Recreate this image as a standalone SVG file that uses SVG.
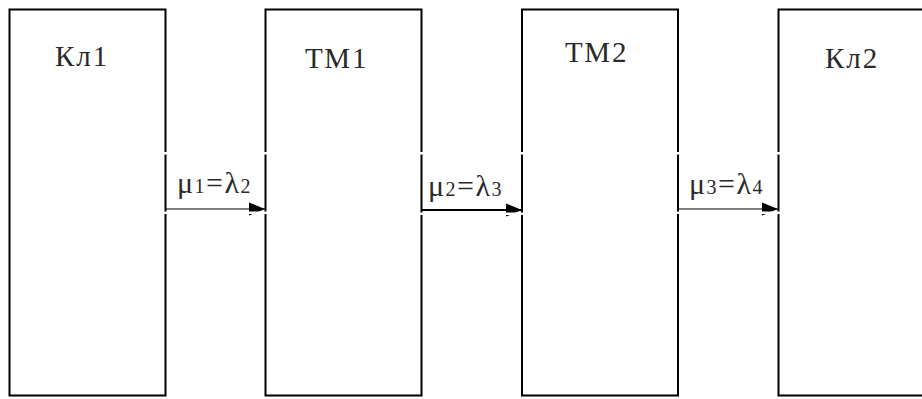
<svg xmlns="http://www.w3.org/2000/svg" width="922" height="399" viewBox="0 0 922 399">
<style>
.box{fill:#fff;stroke:#000;stroke-width:2}
.lbl{font-family:"Liberation Serif","DejaVu Serif",serif;font-size:29px;fill:#2a2a2a;letter-spacing:2px}
.rate{font-family:"Liberation Serif","DejaVu Serif",serif;font-size:30px;fill:#2a2a2a;letter-spacing:1.5px}
.sub{font-size:20px}
.conn{stroke:#000;stroke-width:1.2;fill:none}
.gap{fill:#fff}
</style>
<defs>
<marker id="ah" markerUnits="userSpaceOnUse" markerWidth="16" markerHeight="14" refX="16" refY="7" orient="auto">
<path d="M0,0.5 L16,7 L0,13.5 Z" fill="#000"/>
</marker>
</defs>
<g id="node-kl1"><rect class="box" x="9.5" y="9.5" width="156" height="386"/><text class="lbl" x="55" y="66">Кл1</text></g>
<g id="node-tm1"><rect class="box" x="265.5" y="9.5" width="156" height="386"/><text class="lbl" x="305" y="68">ТМ1</text></g>
<g id="node-tm2"><rect class="box" x="522" y="9.5" width="156" height="386"/><text class="lbl" x="565" y="62">ТМ2</text></g>
<g id="node-kl2"><rect class="box" x="778.5" y="9.5" width="160" height="386"/><text class="lbl" x="825" y="68">Кл2</text></g>
<g id="connectors">
<line class="conn" x1="166" y1="209" x2="265" y2="209" marker-end="url(#ah)"/>
<line class="conn" x1="422" y1="210" x2="522" y2="210" style="stroke-width:2.2" marker-end="url(#ah)"/>
<line class="conn" x1="678" y1="209" x2="778" y2="209" marker-end="url(#ah)"/>
<rect class="gap" x="163" y="152" width="105" height="2.5"/>
<rect class="gap" x="163" y="211.5" width="105" height="2.5"/>
<rect class="gap" x="419" y="152" width="106" height="2.5"/>
<rect class="gap" x="419" y="212.5" width="106" height="2.5"/>
<rect class="gap" x="676" y="152" width="105" height="2.5"/>
<rect class="gap" x="676" y="211.5" width="105" height="2.5"/>
<text class="rate" x="177" y="193">μ<tspan class="sub">1</tspan>=λ<tspan class="sub">2</tspan></text>
<text class="rate" x="428" y="196">μ<tspan class="sub">2</tspan>=λ<tspan class="sub">3</tspan></text>
<text class="rate" x="689" y="194">μ<tspan class="sub">3</tspan>=λ<tspan class="sub">4</tspan></text>
</g>
</svg>
